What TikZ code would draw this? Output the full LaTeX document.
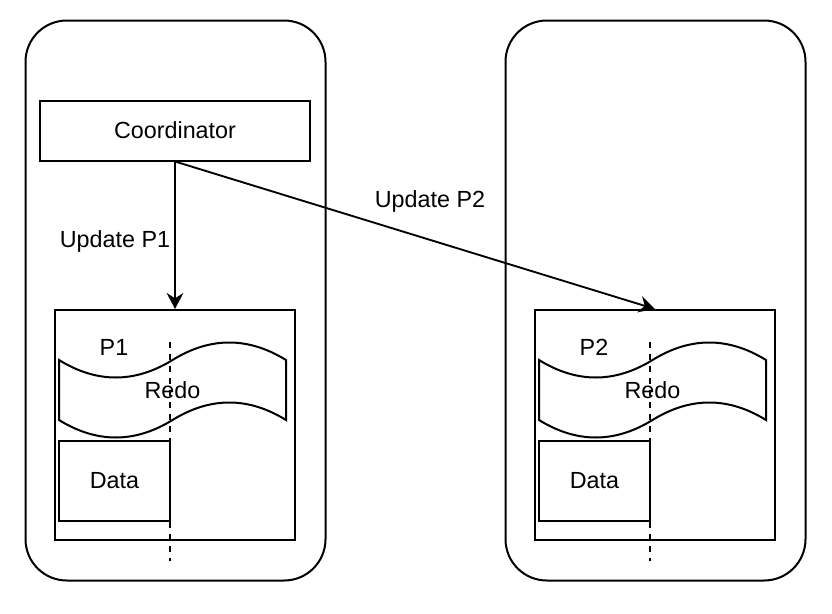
\documentclass[tikz,border=0pt]{standalone}
\usepackage{fontspec}
\setmainfont{Liberation Sans}
\usetikzlibrary{arrows.meta}
\begin{document}
\begin{tikzpicture}[x=0.75pt,y=-0.75pt,line width=1.5pt,
  every node/.style={font=\fontsize{17.5}{21}\selectfont},
  host/.style={draw,rounded corners=31pt,minimum width=225pt,minimum height=420pt,inner sep=0pt},
  boxnode/.style={draw,inner sep=0pt},
  txt/.style={inner sep=0pt},
  link/.style={-{Stealth[length=12pt,width=12.5pt,inset=4pt]},line width=1.4pt},
  cut/.style={dash pattern=on 4.5pt off 4.5pt}]
\useasboundingbox (0,0) rectangle (832,614);
\foreach \dx/\n in {0/1,480/2}{
\begin{scope}[shift={(\dx,0)}]
  \node[host] (host\n) at (175.5,300.5) {};
  \node[boxnode,minimum width=180pt,minimum height=172.5pt] (p\n) at (175,425) {};
  \draw (59,360) .. controls (96.83,383.33) and (134.67,383.33) .. (172.5,360)
        .. controls (210.33,336.67) and (248.17,336.67) .. (286,360)
        -- (286,420)
        .. controls (248.17,396.67) and (210.33,396.67) .. (172.5,420)
        .. controls (134.67,443.33) and (96.83,443.33) .. (59,420) -- cycle;
  \node[txt] (redo\n) at (172.5,390) {Redo};
  \node[txt] (plabel\n) at (114,347) {P\n};
  \node[boxnode,minimum width=83.25pt,minimum height=60pt] (data\n) at (114.5,480.5) {Data};
  \coordinate (cuttop\n) at (170,341.5);
  \coordinate (cutbot\n) at (170,561);
  \draw[cut] (cuttop\n) -- (cutbot\n);
\end{scope}
}
\node[boxnode,minimum width=202.5pt,minimum height=45pt] (coord) at (175,130.5) {Coordinator};
\draw[link] (coord.south) -- (p1.north);
\draw[link] (coord.south) -- (p2.north);
\node[txt] (u1) at (115,241) {Update P1};
\node[txt] (u2) at (430,201) {Update P2};
\end{tikzpicture}
\end{document}
